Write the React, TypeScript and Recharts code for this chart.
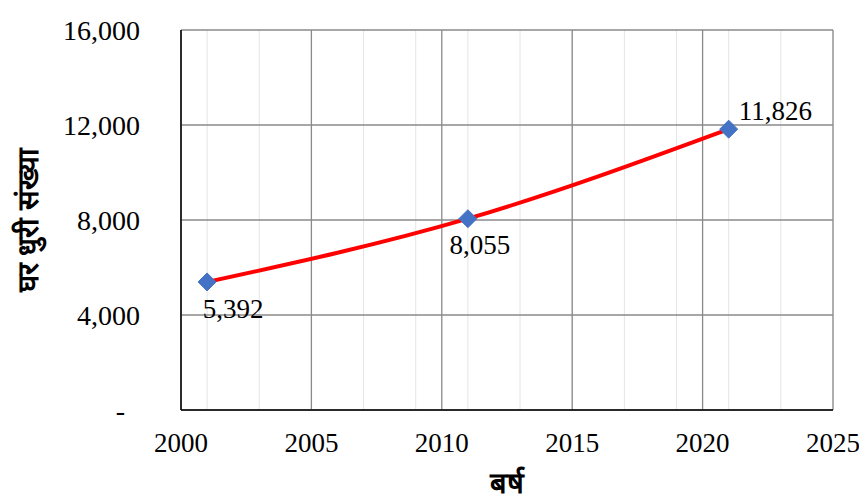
import { CartesianGrid, LabelList, Line, LineChart, XAxis, YAxis } from 'recharts';

const years = [2001, 2011, 2021];
const households = [5392, 8055, 11826];
const xTicks = [2000, 2005, 2010, 2015, 2020, 2025];
const minorTicks = [
  2000, 2001, 2002, 2003, 2004, 2005, 2006, 2007, 2008, 2009, 2010, 2011, 2012,
  2013, 2014, 2015, 2016, 2017, 2018, 2019, 2020, 2021, 2022, 2023, 2024, 2025,
];
const yTicks = [0, 4000, 8000, 12000, 16000];

const data = years.map((year, i) => ({ year, value: households[i] }));

const FONT = "'Liberation Serif', 'Times New Roman', serif";
const fmt = (v: number) => v.toLocaleString('en-US');

function Diamond({ cx, cy }: any) {
  if (cx == null || cy == null) return null;
  const r = 9;
  return (
    <path
      d={`M${cx},${cy - r} L${cx + r},${cy} L${cx},${cy + r} L${cx - r},${cy} Z`}
      fill="#4472C4"
      stroke="#4472C4"
    />
  );
}

function PointLabel({ x, y, value, index }: any) {
  let tx = x + 26;
  let ty = y + 36;
  let anchor: 'middle' | 'start' = 'middle';
  if (index === 1) {
    tx = x + 12;
    ty = y + 35;
  } else if (index === 2) {
    tx = x + 10;
    ty = y - 9;
    anchor = 'start';
  }
  return (
    <text x={tx} y={ty} textAnchor={anchor} style={{ fontFamily: FONT, fontSize: 27 }} fill="#000">
      {fmt(value)}
    </text>
  );
}

function YTick({ x, y, payload }: any) {
  const v = payload.value as number;
  return (
    <text
      x={v === 0 ? x - 15 : x}
      y={y}
      dy="0.35em"
      textAnchor="end"
      style={{ fontFamily: FONT, fontSize: 28 }}
      fill="#000"
    >
      {v === 0 ? '-' : fmt(v)}
    </text>
  );
}

function XTick({ x, y, payload }: any) {
  return (
    <text x={x} y={y} dy="0.71em" textAnchor="middle" style={{ fontFamily: FONT, fontSize: 27 }} fill="#000">
      {payload.value}
    </text>
  );
}

export default function App() {
  return (
    <div style={{ position: 'absolute', left: 0, top: 0, background: '#fff' }}>
      <LineChart
        width={859}
        height={504}
        data={data}
        margin={{ top: 30, right: 26, bottom: 0, left: 0 }}
      >
        <XAxis
          xAxisId="minor"
          dataKey="year"
          type="number"
          domain={[2000, 2025]}
          ticks={minorTicks}
          hide
        />
        <CartesianGrid xAxisId="minor" horizontal={false} stroke="#e4e4e4" strokeWidth={1} />
        <CartesianGrid stroke="#8a8a8a" strokeWidth={1.3} />
        <XAxis
          dataKey="year"
          type="number"
          domain={[2000, 2025]}
          ticks={xTicks}
          height={94}
          tickLine={false}
          tickSize={0}
          tickMargin={23}
          axisLine={{ stroke: '#000', strokeWidth: 1.5 }}
          tick={<XTick />}
          label={{
            value: 'बर्ष',
            position: 'insideBottom',
            offset: 11,
            style: { fontFamily: FONT, fontSize: 29, fontWeight: 'bold', fill: '#000' },
          }}
        />
        <YAxis
          type="number"
          domain={[0, 16000]}
          ticks={yTicks}
          width={181}
          tickLine={false}
          tickSize={0}
          tickMargin={41}
          axisLine={{ stroke: '#000', strokeWidth: 1.5 }}
          tick={<YTick />}
          label={{
            value: 'घर धुरी संख्या',
            angle: -90,
            position: 'insideLeft',
            offset: 28,
            style: {
              fontFamily: FONT,
              fontSize: 29,
              fontWeight: 'bold',
              fill: '#000',
              textAnchor: 'middle',
            },
          }}
        />
        <Line
          dataKey="value"
          type="monotone"
          stroke="#FF0000"
          strokeWidth={4}
          dot={<Diamond />}
          activeDot={false}
          isAnimationActive={false}
        >
          <LabelList dataKey="value" content={<PointLabel />} />
        </Line>
      </LineChart>
    </div>
  );
}
